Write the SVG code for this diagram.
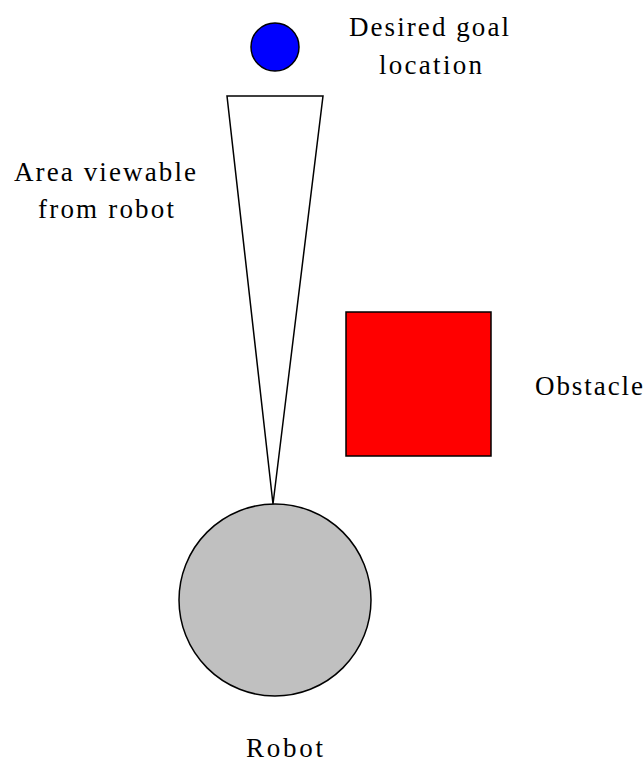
<svg xmlns="http://www.w3.org/2000/svg" width="644" height="762" viewBox="0 0 644 762">
<style>
text { font-family: "Liberation Serif", "Times New Roman", serif; font-size: 27px; fill: #000; }
.shape { stroke: #000; stroke-width: 1.5; }
</style>
<rect width="644" height="762" fill="#fff"/>
<g id="goal">
<circle class="shape" cx="275" cy="47" r="24" fill="#0000ff"/>
<text x="349" y="36" textLength="160" lengthAdjust="spacing">Desired goal</text>
<text x="379" y="74" textLength="103" lengthAdjust="spacing">location</text>
</g>
<g id="view">
<polygon class="shape" points="227,96 323,96 273,504" fill="none"/>
<text x="14" y="181" textLength="182" lengthAdjust="spacing">Area viewable</text>
<text x="38" y="218" textLength="136" lengthAdjust="spacing">from robot</text>
</g>
<g id="obstacle">
<rect class="shape" x="346" y="312" width="145" height="144" fill="#ff0000"/>
<text x="535" y="395" textLength="108" lengthAdjust="spacing">Obstacle</text>
</g>
<g id="robot">
<circle class="shape" cx="275" cy="600" r="96" fill="#c0c0c0"/>
<text x="246" y="757" textLength="77" lengthAdjust="spacing">Robot</text>
</g>
<g id="connectors"></g>
</svg>
